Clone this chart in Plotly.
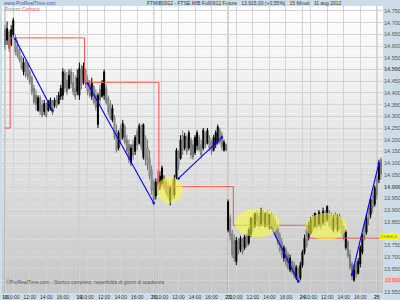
import plotly.graph_objects as go

# ---------------- data ----------------
days = ["18", "19", "20", "23", "24", "25"]
hour_labels = ["10:00", "12:00", "14:00", "16:00"]
hour_offsets = [4, 12, 20, 28]          # bar offset of each hour label inside a day (15-min bars from 9:00)
bars_per_day = 36

bar_open = [14670, 14625, 14660, 14605, 14650, 14640, 14605, 14585, 14555, 14490, 14530, 14520,
            14490, 14465, 14420, 14390, 14325, 14380, 14350, 14320, 14355, 14325, 14335, 14360,
            14345, 14370, 14355, 14385, 14390, 14485, 14455, 14420, 14490, 14445, 14420, 14405,
            14390, 14500, 14445, 14500, 14455, 14435, 14385, 14425, 14390, 14265, 14415, 14385,
            14390, 14420, 14380, 14355, 14285, 14295, 14240, 14165, 14250, 14210, 14255, 14200,
            14180, 14105, 14180, 14150, 14235, 14185, 14250, 14125, 14210, 14165, 14120, 14070,
            14020, 13960, 14030, 13995, 14015, 14045, 14020, 14005, 13935, 14005, 13965, 14040,
            14150, 14120, 14220, 14165, 14210, 14165, 14200, 14180, 14145, 14175, 14210, 14180,
            14165, 14225, 14185, 14210, 14190, 14155, 14180, 14190, 14240, 14220, 14155, 14180,
            13815, 13865, 13800, 13770, 13680, 13765, 13730, 13770, 13740, 13790, 13760, 13795,
            13865, 13830, 13885, 13875, 13840, 13890, 13830, 13890, 13825, 13885, 13865, 13840,
            13825, 13795, 13765, 13695, 13730, 13710, 13645, 13680, 13665, 13610, 13645, 13610,
            13665, 13720, 13815, 13780, 13800, 13865, 13830, 13875, 13840, 13885, 13845, 13890,
            13860, 13890, 13880, 13815, 13885, 13815, 13875, 13850, 13825, 13740, 13765, 13710,
            13670, 13600, 13670, 13630, 13670, 13720, 13830, 13805, 13910, 13880, 13960, 13925,
            14030, 14030, 14115]
bar_high = [14690, 14705, 14670, 14690, 14720, 14650, 14625, 14590, 14560, 14550, 14540, 14530,
            14500, 14475, 14435, 14415, 14390, 14390, 14370, 14370, 14360, 14370, 14380, 14370,
            14380, 14390, 14405, 14435, 14505, 14500, 14490, 14500, 14505, 14490, 14475, 14500,
            14530, 14520, 14530, 14505, 14475, 14455, 14465, 14435, 14415, 14400, 14435, 14455,
            14500, 14435, 14390, 14370, 14350, 14305, 14265, 14240, 14265, 14285, 14265, 14220,
            14200, 14180, 14200, 14220, 14250, 14270, 14265, 14270, 14220, 14200, 14155, 14090,
            14030, 14035, 14070, 14065, 14090, 14050, 14035, 14020, 14005, 14030, 14050, 14165,
            14155, 14220, 14240, 14230, 14220, 14240, 14210, 14200, 14220, 14240, 14220, 14200,
            14250, 14235, 14250, 14220, 14200, 14220, 14240, 14265, 14250, 14235, 14200, 14185,
            13945, 13880, 13815, 13795, 13785, 13780, 13790, 13780, 13795, 13800, 13825, 13870,
            13880, 13890, 13900, 13890, 13910, 13900, 13890, 13900, 13885, 13890, 13880, 13860,
            13835, 13805, 13780, 13750, 13740, 13720, 13710, 13685, 13680, 13665, 13655, 13680,
            13730, 13795, 13835, 13850, 13870, 13880, 13890, 13885, 13900, 13890, 13910, 13900,
            13920, 13900, 13890, 13880, 13890, 13880, 13885, 13865, 13835, 13815, 13770, 13730,
            13680, 13665, 13685, 13695, 13750, 13800, 13850, 13880, 13920, 13950, 13975, 14005,
            14050, 14115, 14125]
bar_low = [14585, 14605, 14575, 14600, 14640, 14560, 14550, 14530, 14500, 14475, 14465, 14455,
           14435, 14390, 14350, 14325, 14320, 14305, 14295, 14305, 14295, 14320, 14325, 14305,
           14335, 14335, 14350, 14370, 14370, 14405, 14390, 14415, 14420, 14390, 14370, 14390,
           14370, 14415, 14435, 14420, 14390, 14380, 14370, 14350, 14325, 14250, 14350, 14380,
           14370, 14350, 14305, 14285, 14275, 14200, 14145, 14155, 14180, 14200, 14180, 14135,
           14100, 14090, 14115, 14135, 14155, 14180, 14155, 14115, 14090, 14070, 14030, 13965,
           13920, 13945, 13965, 13985, 14005, 13985, 13965, 13945, 13920, 13945, 13950, 14030,
           14070, 14115, 14135, 14155, 14135, 14155, 14120, 14115, 14135, 14155, 14150, 14120,
           14155, 14165, 14180, 14155, 14135, 14150, 14165, 14180, 14180, 14155, 14150, 14150,
           13805, 13770, 13695, 13680, 13665, 13710, 13720, 13710, 13730, 13740, 13750, 13785,
           13805, 13825, 13835, 13825, 13830, 13835, 13825, 13830, 13815, 13825, 13805, 13780,
           13750, 13720, 13695, 13680, 13660, 13645, 13635, 13625, 13610, 13600, 13590, 13600,
           13655, 13710, 13740, 13770, 13795, 13805, 13825, 13815, 13830, 13815, 13835, 13830,
           13850, 13825, 13815, 13805, 13825, 13805, 13815, 13795, 13770, 13730, 13695, 13645,
           13600, 13595, 13610, 13625, 13655, 13710, 13770, 13795, 13835, 13865, 13890, 13915,
           13945, 14015, 14030]
bar_close = [14605, 14675, 14590, 14670, 14710, 14575, 14560, 14540, 14505, 14530, 14475, 14470,
             14445, 14405, 14360, 14350, 14380, 14320, 14305, 14355, 14300, 14360, 14370, 14315,
             14370, 14345, 14390, 14420, 14490, 14420, 14405, 14475, 14440, 14405, 14385, 14465,
             14505, 14435, 14515, 14440, 14405, 14390, 14445, 14360, 14340, 14390, 14370, 14440,
             14490, 14360, 14320, 14295, 14335, 14210, 14155, 14230, 14200, 14270, 14190, 14150,
             14115, 14165, 14135, 14210, 14175, 14260, 14170, 14265, 14115, 14090, 14045, 13985,
             13945, 14020, 13985, 14045, 14080, 13995, 13975, 13955, 13995, 13965, 14035, 14155,
             14090, 14200, 14155, 14215, 14150, 14230, 14135, 14125, 14210, 14230, 14160, 14135,
             14240, 14180, 14240, 14165, 14150, 14210, 14230, 14255, 14190, 14170, 14190, 14155,
             13935, 13790, 13710, 13695, 13770, 13720, 13780, 13720, 13785, 13750, 13815, 13865,
             13825, 13885, 13850, 13830, 13900, 13850, 13885, 13845, 13880, 13835, 13815, 13790,
             13765, 13730, 13710, 13740, 13675, 13655, 13695, 13635, 13620, 13655, 13595, 13665,
             13720, 13780, 13750, 13835, 13860, 13820, 13885, 13830, 13890, 13830, 13895, 13850,
             13915, 13835, 13830, 13865, 13840, 13870, 13825, 13800, 13780, 13805, 13705, 13655,
             13615, 13645, 13625, 13680, 13740, 13790, 13785, 13865, 13860, 13945, 13910, 13995,
             13965, 14100, 14055]

# "Contour" indicator: one level per session (first = level carried in from the previous day)
contour_levels = [14250, 14635, 14445, 14000, 13835, 13780, 14030]
contour_switch_bar = 3          # level changes between bar 2 and 3 of each session

# hand-drawn trend lines: (bar, price) -> (bar, price)
trend_lines = [
    ((5, 14630), (23, 14325)),
    ((40, 14440), (72, 13930)),
    ((84, 14035), (105, 14210)),
    ((129, 13825), (142, 13595)),
    ((168, 13625), (181, 14100)),
]

# highlighted zones: (bar0, bar1, price_low, price_high)
zones = [
    (73.5, 86.0, 13930, 14041),
    (111.3, 133.0, 13785, 13905),
    (145.6, 165.5, 13772, 13888),
]

y_tick_values = list(range(13550, 14751, 50))
last_value = 13800
last_label = "13.800,0"
low_value = 13600
low_label = "13.600"

# ---------------- build ----------------
n = len(bar_close)
idx = list(range(n))

contour = []
for i in idx:
    d, k = divmod(i, bars_per_day)
    contour.append(contour_levels[d + 1] if k >= contour_switch_bar else contour_levels[d])

fig = go.Figure()
fig.add_trace(go.Candlestick(
    x=idx, open=bar_open, high=bar_high, low=bar_low, close=bar_close,
    increasing=dict(line=dict(color="#000000", width=1), fillcolor="#000000"),
    decreasing=dict(line=dict(color="#767676", width=1), fillcolor="#d2d2d2"),
    whiskerwidth=0, hoverinfo="skip"))

fig.add_trace(go.Scatter(x=idx, y=contour, mode="lines",
                         line=dict(color="#f25050", width=1, shape="hvh"), hoverinfo="skip"))

for (x0, y0), (x1, y1) in trend_lines:
    fig.add_trace(go.Scatter(x=[x0, x1], y=[y0, y1], mode="lines+markers",
                             line=dict(color="#0000ff", width=1.1),
                             marker=dict(color="#0000ff", size=2.5), hoverinfo="skip"))

# background gradient (white top -> grey bottom)
shapes = []
N = 48
for j in range(N):
    t = (j + 0.5) / N
    c = int(round(198 + (255 - 198) * t))
    shapes.append(dict(type="rect", xref="x domain", yref="y domain", x0=0, x1=1,
                       y0=j / N, y1=(j + 1) / N, fillcolor=f"rgb({c},{c},{c})",
                       line=dict(width=0), layer="below"))
# session separators
for d in range(len(days)):
    shapes.append(dict(type="line", xref="x", yref="y domain", x0=d * bars_per_day, x1=d * bars_per_day,
                       y0=0, y1=1, line=dict(color="#9e9e9e", width=1), layer="below"))
# yellow zones
for b0, b1, p0, p1 in zones:
    shapes.append(dict(type="circle", xref="x", yref="y", x0=b0, x1=b1, y0=p0, y1=p1,
                       fillcolor="#ffff33", opacity=0.55, line=dict(width=0), layer="above"))

# ticks
xt_vals, xt_text = [], []
for d, day in enumerate(days):
    xt_vals.append(d * bars_per_day)
    xt_text.append(f"<b>{day}</b>")
    for off, lab in zip(hour_offsets, hour_labels):
        xt_vals.append(d * bars_per_day + off)
        xt_text.append(lab)

yt_text = []
for v in y_tick_values:
    s = f"{v:,}".replace(",", ".")
    if v in (last_value, low_value):
        s = ""          # replaced by the highlighted price boxes
    elif v % 500 == 0:
        s = f"<b>{s}</b>"
    yt_text.append(s)

font_family = "Liberation Sans, Arial, sans-serif"

annotations = [
    dict(xref="paper", yref="paper", x=0.0, y=1.0105, xanchor="left", yanchor="middle",
         text="www.ProRealTime.com", showarrow=False,
         font=dict(size=5, color="#3a5fa8", family=font_family)),
    dict(xref="paper", yref="paper", x=0.375, y=1.0105, xanchor="left", yanchor="middle",
         text="FTMIB0912 - FTSE MIB Full0912 Future   13.915,00 (+0,55%)   15 Minuti   11 aug 2012",
         showarrow=False, font=dict(size=5, color="#333333", family=font_family)),
    dict(xref="paper", yref="paper", x=0.003, y=0.988, xanchor="left", yanchor="middle",
         text="<span style='color:#8a8a8a'>Prezzo</span> <span style='color:#e86060'>Contour</span>",
         showarrow=False, font=dict(size=5, family=font_family)),
    dict(xref="paper", yref="paper", x=0.005, y=0.038, xanchor="left", yanchor="middle",
         text="©ProRealTime.com - Storico completo, reperibilità di giorni di scadenza",
         showarrow=False, font=dict(size=5, color="#555555", family=font_family)),
    dict(xref="paper", yref="y", x=1.0 + 16.5 / 381, y=13787, xanchor="right", yanchor="middle",
         text=last_label, showarrow=False, bgcolor="#ffff00", borderpad=0,
         font=dict(size=4.4, color="#555555", family=font_family)),
    dict(xref="paper", yref="y", x=1.0, y=13600, xanchor="left", yanchor="middle", xshift=1,
         text=low_label, showarrow=False, bgcolor="#f6c6c6", borderpad=0,
         font=dict(size=5, color="#e05050", family=font_family)),
]

fig.update_layout(
    width=400, height=300, autosize=False,
    margin=dict(l=2, r=17, t=6, b=7, pad=0),
    paper_bgcolor="#cddde8", plot_bgcolor="#ffffff",
    showlegend=False,
    font=dict(family=font_family, size=5, color="#333333"),
    shapes=shapes, annotations=annotations,
    xaxis=dict(range=[-1.45, 183], tickvals=xt_vals, ticktext=xt_text, tickangle=0,
               showgrid=True, gridcolor="#d3d3d3", gridwidth=1, zeroline=False,
               ticks="", tickfont=dict(size=5, color="#333333"), automargin=False,
               rangeslider=dict(visible=False), fixedrange=True, showline=False),
    yaxis=dict(side="right", range=[13546, 14771], tickvals=y_tick_values, ticktext=yt_text,
               showgrid=True, gridcolor="#d3d3d3", gridwidth=1, zeroline=False,
               ticks="", tickfont=dict(size=5.5, color="#555555"), automargin=False,
               fixedrange=True, showline=False),
)

fig.write_html("out.html")
